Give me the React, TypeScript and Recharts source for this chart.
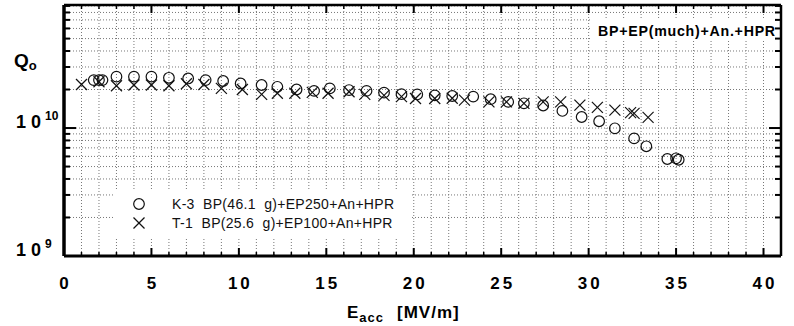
import React from 'react';
import { ScatterChart, Scatter, XAxis, YAxis, CartesianGrid, Legend } from 'recharts';

// K-3 BP(46.1 g)+EP250+An+HPR  (Eacc in MV/m, Q0 in units of 1e10)
const k3Eacc = [1.7, 2.0, 2.2, 3.0, 4.0, 5.0, 6.0, 7.1, 8.1, 9.1, 10.1, 11.3, 12.2, 13.3, 14.3, 15.2, 16.3, 17.3, 18.3, 19.3, 20.2, 21.2, 22.2, 23.4, 24.4, 25.4, 26.3, 27.4, 28.5, 29.6, 30.6, 31.5, 32.6, 33.3, 34.5, 35.0, 35.15];
const k3Q0 = [2.37, 2.37, 2.37, 2.52, 2.52, 2.52, 2.47, 2.44, 2.37, 2.33, 2.23, 2.17, 2.10, 2.00, 1.95, 2.04, 1.98, 1.95, 1.89, 1.84, 1.83, 1.80, 1.78, 1.76, 1.68, 1.60, 1.56, 1.50, 1.36, 1.22, 1.13, 0.995, 0.83, 0.72, 0.573, 0.58, 0.565];

// T-1 BP(25.6 g)+EP100+An+HPR
const t1Eacc = [1.0, 2.0, 3.0, 4.0, 5.0, 6.0, 7.0, 8.0, 9.0, 10.2, 11.3, 12.2, 13.2, 14.2, 15.1, 16.3, 17.2, 18.3, 19.3, 20.1, 21.2, 22.2, 22.9, 24.3, 25.3, 26.3, 27.4, 28.4, 29.5, 30.5, 31.5, 32.4, 32.6, 33.4];
const t1Q0 = [2.19, 2.3, 2.14, 2.17, 2.17, 2.14, 2.22, 2.19, 2.04, 2.0, 1.83, 1.87, 1.87, 1.90, 1.87, 1.92, 1.83, 1.80, 1.76, 1.70, 1.70, 1.71, 1.65, 1.60, 1.60, 1.56, 1.60, 1.60, 1.51, 1.45, 1.38, 1.32, 1.30, 1.21];

const seriesNames = ['K-3  BP(46.1  g)+EP250+An+HPR', 'T-1  BP(25.6  g)+EP100+An+HPR'];
const titleText = 'BP+EP(much)+An.+HPR';

const xDomain = [0, 41];
const xTicks = Array.from({ length: 42 }, (_, i) => i);
const yTicks = [1e9, 2e9, 3e9, 4e9, 5e9, 6e9, 7e9, 8e9, 9e9, 1e10, 2e10, 3e10, 4e10, 5e10, 6e10, 7e10, 8e10, 9e10];
const yDomain = [1e9, 9.15e10];

const k3Data = k3Eacc.map((e, i) => ({ e, q: k3Q0[i] * 1e10 }));
const t1Data = t1Eacc.map((e, i) => ({ e, q: t1Q0[i] * 1e10 }));

const FONT = '"Liberation Sans", Arial, Helvetica, sans-serif';

const CircleShape = (props: any) => {
  const { cx, cy } = props;
  if (cx == null || cy == null) return null;
  return <circle cx={cx} cy={cy} r={5.3} fill="none" stroke="#111" strokeWidth={1.2} />;
};

const CrossShape = (props: any) => {
  const { cx, cy } = props;
  if (cx == null || cy == null) return null;
  const s = 5.5;
  return (
    <g>
      <line x1={cx - s} y1={cy - s} x2={cx + s} y2={cy + s} stroke="#111" strokeWidth={1.2} />
      <line x1={cx - s} y1={cy + s} x2={cx + s} y2={cy - s} stroke="#111" strokeWidth={1.2} />
    </g>
  );
};

const isDecade = (v: number) => {
  const e = Math.round(Math.log10(v));
  return Math.abs(v / Math.pow(10, e) - 1) < 1e-6;
};

const XTickBottom = (props: any) => {
  const { x, y, payload } = props;
  const v = payload.value;
  const major = v % 5 === 0;
  if (v > 40) return <g />;
  return (
    <g>
      <line x1={x} x2={x} y1={y} y2={y - (major ? 8 : 4)} stroke="#000" strokeWidth={major ? 2 : 1.5} />
      {major && (
        <text x={x + 1.5} y={y + 33} textAnchor="middle" fontFamily={FONT} fontWeight="bold" fontSize={17} letterSpacing={3} fill="#000">
          {v}
        </text>
      )}
    </g>
  );
};

const XTickTop = (props: any) => {
  const { x, y, payload } = props;
  const v = payload.value;
  if (v > 40) return <g />;
  const major = v % 5 === 0;
  return <line x1={x} x2={x} y1={y} y2={y + (major ? 8 : 4)} stroke="#000" strokeWidth={major ? 2 : 1.5} />;
};

const YTickLeft = (props: any) => {
  const { x, y, payload } = props;
  const v = payload.value;
  const major = isDecade(v);
  const exp = Math.round(Math.log10(v));
  return (
    <g>
      <line x1={x} x2={x + (major ? 12 : 6)} y1={y} y2={y} stroke="#000" strokeWidth={2} />
      {major && (
        <g>
          <text x={x - 18} y={y} textAnchor="end" fontFamily={FONT} fontWeight="bold" fontSize={18} letterSpacing={5} fill="#000">
            10
          </text>
          <text x={x - 19} y={y - 8} textAnchor="start" fontFamily={FONT} fontWeight="bold" fontSize={12} fill="#000">
            {exp}
          </text>
        </g>
      )}
    </g>
  );
};

const YTickRight = (props: any) => {
  const { x, y, payload } = props;
  const v = payload.value;
  const major = isDecade(v);
  return <line x1={x} x2={x - (major ? 12 : 6)} y1={y} y2={y} stroke="#000" strokeWidth={2} />;
};

const LegendContent = (props: any) => {
  const { payload } = props;
  return (
    <div style={{ background: '#fff', padding: '4px 0 4px 14px', fontFamily: FONT, fontSize: 14, color: '#111' }}>
      {(payload || []).map((entry: any, i: number) => (
        <div key={i} style={{ display: 'flex', alignItems: 'center', height: 19.5 }}>
          <svg width={20} height={16} style={{ marginRight: 23 }}>
            {entry.value === seriesNames[0] ? (
              <circle cx={10} cy={8} r={5.3} fill="none" stroke="#111" strokeWidth={1.2} />
            ) : (
              <g>
                <line x1={4.5} y1={2.5} x2={15.5} y2={13.5} stroke="#111" strokeWidth={1.2} />
                <line x1={4.5} y1={13.5} x2={15.5} y2={2.5} stroke="#111" strokeWidth={1.2} />
              </g>
            )}
          </svg>
          <span style={{ whiteSpace: 'pre', letterSpacing: 0.3 }}>{entry.value}</span>
        </div>
      ))}
    </div>
  );
};

export default function App() {
  return (
    <div style={{ position: 'absolute', left: 0, top: 0, width: 794, height: 326, background: '#fff' }}>
      <ScatterChart width={794} height={326} margin={{ top: 0, right: 0, bottom: 0, left: 0 }}>
        <CartesianGrid stroke="#777" strokeDasharray="1 2" strokeWidth={1} xAxisId="bottom" yAxisId="left" />
        <XAxis
          xAxisId="bottom"
          dataKey="e"
          type="number"
          domain={xDomain}
          ticks={xTicks}
          interval={0}
          height={70}
          orientation="bottom"
          axisLine={{ stroke: '#000', strokeWidth: 3 }}
          tickLine={false}
          tickSize={0}
          tickMargin={0}
          tick={<XTickBottom />}
          allowDataOverflow
        />
        <XAxis
          xAxisId="top"
          dataKey="e"
          type="number"
          domain={xDomain}
          ticks={xTicks}
          interval={0}
          height={5}
          orientation="top"
          axisLine={{ stroke: '#000', strokeWidth: 2.5 }}
          tickLine={false}
          tickSize={0}
          tickMargin={0}
          tick={<XTickTop />}
          allowDataOverflow
        />
        <YAxis
          yAxisId="left"
          dataKey="q"
          type="number"
          scale="log"
          domain={yDomain}
          ticks={yTicks}
          interval={0}
          width={64}
          orientation="left"
          axisLine={{ stroke: '#000', strokeWidth: 3.5 }}
          tickLine={false}
          tickSize={0}
          tickMargin={0}
          tick={<YTickLeft />}
          allowDataOverflow
        />
        <YAxis
          yAxisId="right"
          dataKey="q"
          type="number"
          scale="log"
          domain={yDomain}
          ticks={yTicks}
          interval={0}
          width={13}
          orientation="right"
          axisLine={{ stroke: '#000', strokeWidth: 2.5 }}
          tickLine={false}
          tickSize={0}
          tickMargin={0}
          tick={<YTickRight />}
          allowDataOverflow
        />
        <Legend
          layout="vertical"
          align="center"
          verticalAlign="middle"
          wrapperStyle={{ left: 115, top: 190, width: 297 }}
          content={<LegendContent />}
        />
        <Scatter
          name={seriesNames[1]}
          data={t1Data}
          xAxisId="bottom"
          yAxisId="left"
          shape={<CrossShape />}
          isAnimationActive={false}
        />
        <Scatter
          name={seriesNames[0]}
          data={k3Data}
          xAxisId="bottom"
          yAxisId="left"
          shape={<CircleShape />}
          isAnimationActive={false}
        />
      </ScatterChart>
      <svg width={794} height={326} style={{ position: 'absolute', left: 0, top: 0, pointerEvents: 'none' }}>
        <rect x={592} y={19} width={183} height={22} fill="#fff" />
        <text x={598} y={36} fontFamily={FONT} fontWeight="bold" fontSize={14.2} letterSpacing={0.75} fill="#000">
          {titleText}
        </text>
        <text x={14} y={67} fontFamily={FONT} fontWeight="bold" fontSize={19} fill="#000">
          Q<tspan fontSize={13} dy={3}>o</tspan>
        </text>
        <text x={347} y={318} fontFamily={FONT} fontWeight="bold" fontSize={17} letterSpacing={1} fill="#000">
          E<tspan fontSize={13} dy={4}>acc</tspan>
          <tspan dx={13} dy={-4}>[MV/m]</tspan>
        </text>
      </svg>
    </div>
  );
}
